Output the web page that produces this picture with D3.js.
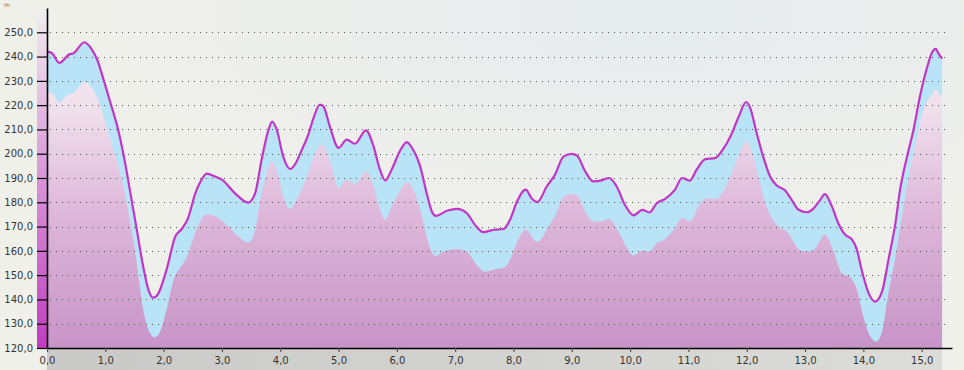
<!DOCTYPE html>
<html><head><meta charset="utf-8">
<script src="https://cdn.jsdelivr.net/npm/d3@7"></script>
<style>html,body{margin:0;padding:0;overflow:hidden;background:#f0f0eb}</style>
</head><body>
<svg id="chart" width="964" height="370"></svg>
<script>
// ---- data ----
const upperKm = [0.00,0.08,0.21,0.39,0.45,0.64,0.77,0.86,0.97,1.08,1.22,1.34,1.42,1.54,1.65,1.74,1.82,1.91,2.05,2.20,2.31,2.42,2.54,2.62,2.74,2.88,3.00,3.22,3.45,3.57,3.68,3.80,3.86,3.94,4.05,4.17,4.25,4.37,4.48,4.57,4.68,4.74,4.85,5.00,5.14,5.28,5.47,5.60,5.71,5.80,5.91,6.05,6.17,6.28,6.40,6.51,6.60,6.67,6.86,7.03,7.20,7.34,7.48,7.66,7.83,7.94,8.06,8.21,8.31,8.41,8.57,8.71,8.86,9.00,9.09,9.23,9.37,9.51,9.64,9.77,9.91,10.06,10.21,10.33,10.46,10.60,10.77,10.89,11.02,11.14,11.29,11.46,11.57,11.72,11.86,11.99,12.06,12.17,12.29,12.40,12.52,12.66,12.77,12.89,13.03,13.14,13.26,13.34,13.46,13.57,13.69,13.80,13.89,13.97,14.09,14.20,14.32,14.43,14.55,14.63,14.75,14.86,14.97,15.09,15.18,15.24,15.29,15.35];
const upperAlt = [242.0,241.5,237.4,241.0,241.3,245.9,242.9,238.8,230.5,221.6,209.9,196.2,185.2,168.7,153.5,143.9,140.7,142.5,152.2,165.9,169.0,173.5,183.5,187.9,191.8,190.6,189.3,183.8,179.9,183.8,197.5,209.9,213.2,209.9,198.9,193.7,195.5,201.6,207.8,214.7,220.2,219.5,211.3,202.4,205.8,204.1,209.6,203.0,193.4,189.0,193.4,201.0,204.8,201.6,194.8,183.8,176.2,174.4,176.5,177.3,175.5,170.7,167.7,168.7,169.0,172.8,180.3,185.2,181.7,180.1,186.5,191.3,198.9,199.9,199.2,192.7,188.6,189.0,190.0,186.5,179.0,174.6,176.9,175.8,179.7,181.4,185.2,190.0,188.9,193.4,197.8,198.2,201.0,207.1,215.1,221.3,218.8,208.5,198.2,190.6,186.8,184.9,181.0,176.9,175.9,177.3,181.0,183.4,178.3,171.4,166.6,164.8,160.4,152.2,142.6,139.1,143.2,156.3,171.4,185.2,198.9,209.9,223.6,235.3,241.8,243.2,241.2,239.1];

const lowerKm = [0.00,0.11,0.21,0.34,0.45,0.65,0.79,0.91,1.02,1.17,1.31,1.42,1.54,1.65,1.77,1.84,1.94,2.05,2.17,2.28,2.40,2.54,2.74,2.94,3.11,3.28,3.45,3.57,3.68,3.77,3.85,3.94,4.05,4.17,4.28,4.48,4.60,4.70,4.77,4.88,5.00,5.14,5.28,5.47,5.60,5.71,5.80,5.91,6.05,6.17,6.31,6.43,6.54,6.66,6.80,7.03,7.20,7.37,7.51,7.71,7.83,7.94,8.03,8.21,8.41,8.60,8.71,8.86,9.00,9.09,9.23,9.37,9.51,9.63,9.80,9.93,10.06,10.21,10.33,10.46,10.60,10.77,10.89,11.03,11.17,11.32,11.49,11.60,11.74,11.89,11.99,12.09,12.20,12.32,12.43,12.57,12.69,12.80,12.92,13.06,13.18,13.26,13.34,13.49,13.63,13.77,13.89,14.00,14.12,14.22,14.32,14.43,14.55,14.66,14.80,14.92,15.03,15.15,15.24,15.35];
const lowerAlt = [225.7,224.3,221.2,223.9,225.0,229.4,226.4,220.2,211.3,198.9,186.5,172.8,154.9,135.7,126.1,124.4,126.7,135.7,148.0,152.9,157.6,167.3,175.1,173.5,170.0,165.9,163.4,168.7,183.8,192.0,196.8,193.4,182.4,177.2,181.0,192.0,200.3,203.7,202.4,194.8,185.9,189.3,187.6,192.7,186.5,176.9,172.8,178.3,184.5,188.2,183.8,174.2,163.2,157.9,159.7,160.8,159.7,154.2,151.5,152.5,152.9,156.3,161.8,168.7,163.6,170.0,174.2,182.4,183.4,183.0,176.2,172.1,172.1,173.1,168.0,161.8,158.1,160.1,159.5,163.2,164.8,169.4,173.5,172.1,178.3,181.7,181.3,184.5,192.0,201.0,205.1,201.0,190.6,179.7,173.5,169.4,168.0,163.8,160.1,159.7,161.1,164.5,166.6,159.7,150.8,149.2,143.9,132.9,124.7,122.6,126.7,142.6,157.6,174.2,193.4,207.1,218.1,223.6,226.4,223.0];

const xTicks = d3.range(0, 16);
const yTicks = d3.range(120, 251, 10);
const unitLabel = "m";

// ---- layout ----
const W = 964, H = 370;
const svg = d3.select("#chart");
const x = d3.scaleLinear().domain([0, 15.52]).range([47, 952]);
const y = d3.scaleLinear().domain([120, 260]).range([348, 8]);
const fmt = v => d3.format(".1f")(v).replace(".", ",");

const defs = svg.append("defs");
const bg = defs.append("radialGradient").attr("id","bg").attr("cx","0.68").attr("cy","0.05").attr("r","0.6");
bg.append("stop").attr("offset","0").attr("stop-color","#e6ebed");
bg.append("stop").attr("offset","1").attr("stop-color","#f0f0eb");
const pink = defs.append("linearGradient").attr("id","pink").attr("gradientUnits","userSpaceOnUse")
  .attr("x1",0).attr("y1",y(260)).attr("x2",0).attr("y2",y(120));
pink.append("stop").attr("offset","0").attr("stop-color","#f7f2f4");
pink.append("stop").attr("offset","0.3").attr("stop-color","#efdfeb");
pink.append("stop").attr("offset","0.6").attr("stop-color","#deb8da");
pink.append("stop").attr("offset","1").attr("stop-color","#c794c7");
const strip = defs.append("linearGradient").attr("id","strip").attr("gradientUnits","userSpaceOnUse")
  .attr("x1",0).attr("y1",y(258)).attr("x2",0).attr("y2",y(120));
strip.append("stop").attr("offset","0").attr("stop-color","#f0ecef");
strip.append("stop").attr("offset","1").attr("stop-color","#c03cc0");
const bot = defs.append("linearGradient").attr("id","bot").attr("x1",0).attr("x2",1).attr("y1",0).attr("y2",0);
bot.append("stop").attr("offset","0").attr("stop-color","#c9c9c7");
bot.append("stop").attr("offset","1").attr("stop-color","#dcdcd9");

svg.append("rect").attr("width",W).attr("height",H).attr("fill","url(#bg)");
svg.append("rect").attr("x",x(0)).attr("y",y(120)).attr("width",x(15.35)-x(0)).attr("height",H-y(120)).attr("fill","url(#bot)");
svg.append("rect").attr("x",37).attr("y",y(259)).attr("width",x(0)-37).attr("height",y(120)-y(259)).attr("fill","url(#strip)");

const upper = upperKm.map((k,i)=>({k, v: upperAlt[i]}));
const lower = lowerKm.map((k,i)=>({k, v: lowerAlt[i]}));
const curve = d3.curveMonotoneX;

svg.append("path").datum(upper)
  .attr("d", d3.area().curve(curve).x(d=>x(d.k)).y0(y(120)).y1(d=>y(d.v)))
  .attr("fill","#b9e3f6");
svg.append("path").datum(lower)
  .attr("d", d3.area().curve(curve).x(d=>x(d.k)).y0(y(120)).y1(d=>y(d.v)))
  .attr("fill","url(#pink)");

svg.append("g").selectAll("line").data(yTicks.filter(t=>t>120)).join("line")
  .attr("x1", x(0)+3).attr("x2", 949).attr("y1", d=>Math.round(y(d))+0.5).attr("y2", d=>Math.round(y(d))+0.5)
  .attr("stroke","#555").attr("stroke-width",1).attr("stroke-dasharray","1,5");

svg.append("path").datum(upper)
  .attr("d", d3.line().curve(curve).x(d=>x(d.k)).y(d=>y(d.v)))
  .attr("fill","none").attr("stroke","#c236c6").attr("stroke-width",2.2).attr("stroke-linejoin","round");

const yAxis = svg.append("g").attr("transform",`translate(${x(0)},0)`)
  .call(d3.axisLeft(y).tickValues(yTicks).tickFormat(fmt).tickSize(10).tickSizeOuter(0).tickPadding(4));
yAxis.select(".domain").attr("stroke","#000").attr("stroke-width",1.6);
yAxis.selectAll(".tick line").attr("stroke","#000").attr("stroke-width",1.2);
yAxis.selectAll("text").attr("font-family","DejaVu Sans").attr("font-size",10).attr("fill","#333");

const xAxis = svg.append("g").attr("transform",`translate(0,${y(120)})`)
  .call(d3.axisBottom(x).tickValues(xTicks).tickFormat(fmt).tickSize(4).tickSizeOuter(0).tickPadding(5));
xAxis.select(".domain").attr("stroke","#000").attr("stroke-width",1.6);
xAxis.selectAll(".tick line").attr("stroke","#555").attr("stroke-width",1.2);
xAxis.selectAll("text").attr("font-family","DejaVu Sans").attr("font-size",10).attr("fill","#333");

svg.append("text").attr("x",4).attr("y",7).text(unitLabel)
  .attr("font-family","DejaVu Sans").attr("font-size",6).attr("fill","#666");
</script>
</body></html>
